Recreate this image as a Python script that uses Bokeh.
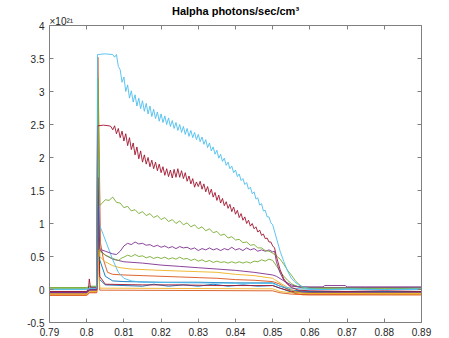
import numpy as np
from bokeh.plotting import figure
from bokeh.models import FixedTicker, LinearAxis, Range1d, Title
from bokeh.embed import file_html
from bokeh.resources import INLINE

# MATLAB default colour order
C_BLUE = "#0072BD"
C_ORANGE = "#D95319"
C_YELLOW = "#EDB120"
C_PURPLE = "#7E2F8E"
C_GREEN = "#77AC30"
C_LBLUE = "#4DBEEE"
C_RED = "#A2142F"

TITLE = "Halpha photons/sec/cm³"
EXPONENT = "×10²¹"

x_ticks = [0.79, 0.8, 0.81, 0.82, 0.83, 0.84, 0.85, 0.86, 0.87, 0.88, 0.89]
x_tick_labels = ["0.79", "0.8", "0.81", "0.82", "0.83", "0.84", "0.85", "0.86", "0.87", "0.88", "0.89"]
y_ticks = [-0.5, 0, 0.5, 1, 1.5, 2, 2.5, 3, 3.5, 4]
y_tick_labels = ["-0.5", "0", "0.5", "1", "1.5", "2", "2.5", "3", "3.5", "4"]

# ---- light blue main series (units of 1e21) ----
lb_head_x = [0.79, 0.8, 0.8008, 0.8027, 0.8029, 0.8050, 0.8070]
lb_head_y = [0.00, 0.00, 0.02, 0.02, 3.56, 3.57, 3.56]
lb_osc_start, lb_osc_step = 0.8075, 0.0005
lb_osc_y = [3.52, 3.56, 3.38, 3.33, 3.14, 3.22, 3.00, 3.10, 2.90, 3.01,
            2.84, 2.95, 2.78, 2.90, 2.74, 2.86, 2.70, 2.82, 2.66, 2.78,
            2.62, 2.73, 2.59, 2.69, 2.55, 2.66, 2.53, 2.63, 2.50, 2.60,
            2.47, 2.56, 2.44, 2.53, 2.41, 2.50, 2.38, 2.47, 2.35, 2.44,
            2.32, 2.41, 2.30, 2.38, 2.27, 2.35, 2.24, 2.31, 2.20, 2.27,
            2.15, 2.22, 2.10, 2.16, 2.05, 2.11, 1.99, 2.05, 1.94, 1.99,
            1.88, 1.93, 1.83, 1.87, 1.77, 1.81, 1.71, 1.75, 1.65, 1.68,
            1.59, 1.62, 1.52, 1.55, 1.45, 1.48, 1.37, 1.39, 1.28, 1.30,
            1.19, 1.20, 1.10, 1.10, 1.01, 0.98]
lb_tail_x = [0.851, 0.852, 0.853, 0.854, 0.855, 0.856, 0.857, 0.858, 0.860, 0.865, 0.870, 0.880, 0.890]
lb_tail_y = [0.78, 0.58, 0.42, 0.28, 0.17, 0.11, 0.07, 0.04, 0.01, 0.00, 0.01, 0.00, 0.01]

# ---- dark red main series ----
rd_head_x = [0.79, 0.8, 0.8005, 0.8007, 0.8010, 0.8027, 0.8029, 0.8045, 0.8060]
rd_head_y = [-0.03, -0.03, 0.02, 0.16, 0.03, 0.03, 2.48, 2.49, 2.48]
rd_osc_start, rd_osc_step = 0.8065, 0.0005
rd_osc_y = [2.47, 2.42, 2.48, 2.36, 2.44, 2.30, 2.40, 2.25, 2.36, 2.18,
            2.30, 2.12, 2.22, 2.04, 2.16, 1.98, 2.10, 1.93, 2.04, 1.90,
            2.00, 1.86, 1.96, 1.83, 1.93, 1.80, 1.90, 1.77, 1.86, 1.73,
            1.83, 1.71, 1.81, 1.69, 1.82, 1.70, 1.83, 1.70, 1.80, 1.68,
            1.77, 1.64, 1.72, 1.60, 1.68, 1.55, 1.63,
            1.56, 1.64, 1.52, 1.60, 1.48, 1.56, 1.44, 1.52, 1.40, 1.47,
            1.35, 1.43, 1.31, 1.38, 1.27, 1.33, 1.23, 1.29, 1.18, 1.25,
            1.14, 1.20, 1.09, 1.15, 1.05, 1.10, 1.00, 1.05, 0.96, 1.00,
            0.92, 0.95, 0.87, 0.90, 0.82, 0.84, 0.77, 0.78, 0.72, 0.72,
            0.66]
rd_tail_x = [0.8505, 0.851, 0.852, 0.853, 0.854, 0.855, 0.857, 0.860, 0.870, 0.880, 0.890]
rd_tail_y = [0.63, 0.50, 0.30, 0.16, 0.08, 0.03, -0.01, -0.02, -0.03, -0.02, -0.03]

# ---- green main series ----
gr_head_x = [0.79, 0.8, 0.8008, 0.8027, 0.8030, 0.8035]
gr_head_y = [0.02, 0.02, 0.04, 0.04, 3.20, 1.27]
gr_body_start, gr_body_step = 0.804, 0.001
gr_body_y = [1.30, 1.36, 1.35, 1.40, 1.32, 1.31, 1.24, 1.26, 1.19, 1.21,
             1.15, 1.18, 1.12, 1.15, 1.09, 1.12, 1.06, 1.09, 1.03, 1.06,
             1.00, 1.04, 0.98, 1.01, 0.95, 0.98, 0.92, 0.95, 0.89, 0.92,
             0.86, 0.88, 0.82, 0.84, 0.78, 0.80, 0.75, 0.76, 0.71, 0.72,
             0.67, 0.68, 0.63, 0.63, 0.59, 0.58, 0.55]
gr_tail_x = [0.851, 0.852, 0.853, 0.854, 0.855, 0.856, 0.857, 0.858, 0.860, 0.870, 0.880, 0.890]
gr_tail_y = [0.51, 0.46, 0.38, 0.29, 0.22, 0.14, 0.08, 0.04, 0.02, 0.02, 0.02, 0.02]

# ---- purple (upper) ----
pu_head_x = [0.79, 0.8, 0.8008, 0.8027, 0.8030, 0.8035]
pu_head_y = [-0.05, -0.05, -0.01, -0.01, 1.70, 0.62]
pu_body_start, pu_body_step = 0.804, 0.001
pu_body_y = [0.60, 0.58, 0.56, 0.54, 0.53, 0.58, 0.66, 0.70, 0.68, 0.72,
             0.69, 0.70, 0.67, 0.68, 0.65, 0.67, 0.64, 0.66, 0.63, 0.65,
             0.62, 0.65, 0.63, 0.64, 0.61, 0.63, 0.59, 0.62, 0.60, 0.63,
             0.60, 0.62, 0.59, 0.62, 0.60, 0.64, 0.60, 0.62, 0.59, 0.63,
             0.60, 0.62, 0.58, 0.60, 0.58, 0.60, 0.57]
pu_tail_x = [0.8505, 0.851, 0.852, 0.853, 0.854, 0.855, 0.857, 0.860, 0.8635, 0.864, 0.8695, 0.870, 0.875, 0.890]
pu_tail_y = [0.58, 0.42, 0.25, 0.14, 0.08, 0.05, 0.04, 0.04, 0.04, 0.06, 0.06, 0.04, 0.04, 0.04]

# ---- green (lower) ----
gl_head_x = [0.79, 0.8, 0.8008, 0.8027, 0.8030, 0.8035, 0.805, 0.807, 0.8085, 0.8095]
gl_head_y = [0.03, 0.03, 0.05, 0.05, 2.90, 0.58, 0.52, 0.47, 0.44, 0.48]
gl_body_start, gl_body_step = 0.810, 0.001
gl_body_y = [0.49, 0.52, 0.50, 0.53, 0.50, 0.51, 0.48, 0.50, 0.47, 0.49,
             0.47, 0.49, 0.46, 0.48, 0.46, 0.49, 0.46, 0.47, 0.44, 0.46,
             0.43, 0.45, 0.42, 0.44, 0.41, 0.43, 0.41, 0.42, 0.40, 0.42,
             0.40, 0.42, 0.40, 0.42, 0.40, 0.43, 0.42, 0.45, 0.43, 0.46,
             0.44]
gl_tail_x = [0.851, 0.852, 0.853, 0.854, 0.855, 0.856, 0.857, 0.858, 0.860, 0.870, 0.880, 0.890]
gl_tail_y = [0.36, 0.27, 0.20, 0.14, 0.09, 0.06, 0.04, 0.02, 0.02, 0.02, 0.01, 0.02]

# ---- smaller series ----
pl_x = [0.79, 0.8, 0.8008, 0.8027, 0.8030, 0.8035, 0.805, 0.807, 0.810, 0.815, 0.820, 0.825,
        0.830, 0.835, 0.840, 0.845, 0.850, 0.851, 0.853, 0.855, 0.857, 0.860, 0.890]
pl_y = [-0.04, -0.04, 0.00, 0.00, 1.50, 0.60, 0.52, 0.46, 0.42, 0.40, 0.37, 0.35,
        0.33, 0.31, 0.29, 0.26, 0.22, 0.20, 0.13, 0.07, 0.04, 0.03, 0.03]

ye_x = [0.79, 0.8, 0.8008, 0.8027, 0.8030, 0.8035, 0.805, 0.807, 0.809, 0.812, 0.820, 0.830,
        0.835, 0.840, 0.845, 0.850, 0.8505, 0.852, 0.854, 0.856, 0.858, 0.860, 0.890]
ye_y = [-0.07, -0.07, -0.03, -0.03, 2.40, 0.50, 0.42, 0.36, 0.33, 0.31, 0.29, 0.27,
        0.26, 0.23, 0.21, 0.17, 0.15, 0.10, 0.03, -0.03, -0.06, -0.06, -0.07]

or_x = [0.79, 0.8, 0.8008, 0.8027, 0.8030, 0.8037, 0.8045, 0.8056, 0.807, 0.810, 0.815, 0.820,
        0.825, 0.830, 0.835, 0.840, 0.845, 0.850, 0.852, 0.854, 0.856, 0.858, 0.860, 0.890]
or_y = [-0.09, -0.09, -0.05, -0.05, 3.52, 0.71, 0.45, 0.26, 0.23, 0.22, 0.21, 0.20,
        0.19, 0.18, 0.17, 0.15, 0.14, 0.12, 0.08, 0.00, -0.06, -0.08, -0.08, -0.08]

lb2_x = [0.79, 0.8, 0.8008, 0.8027, 0.8030, 0.8035, 0.805, 0.807, 0.8085, 0.810, 0.812, 0.815,
         0.830, 0.850, 0.852, 0.855, 0.860, 0.890]
lb2_y = [0.01, 0.01, 0.04, 0.04, 2.00, 0.97, 0.75, 0.45, 0.26, 0.17, 0.13, 0.11,
         0.10, 0.09, 0.05, 0.02, 0.00, 0.00]

bl1_x = [0.79, 0.8, 0.8008, 0.8027, 0.8030, 0.8035, 0.805, 0.807, 0.810, 0.820, 0.830, 0.840,
         0.850, 0.852, 0.855, 0.860, 0.890]
bl1_y = [-0.03, -0.03, 0.01, 0.01, 1.50, 0.45, 0.20, 0.13, 0.12, 0.11, 0.11, 0.10,
         0.10, 0.05, -0.01, -0.03, -0.03]

bl2_x = [0.79, 0.8, 0.8008, 0.8027, 0.8030, 0.8035, 0.805, 0.810, 0.815, 0.818, 0.822, 0.826,
         0.830, 0.834, 0.838, 0.842, 0.846, 0.850, 0.852, 0.855, 0.860, 0.890]
bl2_y = [-0.05, -0.05, -0.01, -0.01, 1.00, 0.15, 0.07, 0.06, 0.05, 0.08, 0.05, 0.07,
         0.05, 0.08, 0.05, 0.07, 0.05, 0.06, 0.02, -0.04, -0.04, -0.04]

rl_x = [0.79, 0.8, 0.8008, 0.8027, 0.8030, 0.8035, 0.805, 0.815, 0.825, 0.835, 0.845, 0.850,
        0.852, 0.855, 0.860, 0.890]
rl_y = [-0.04, -0.04, 0.00, 0.00, 2.00, 0.20, 0.08, 0.07, 0.07, 0.06, 0.06, 0.06,
        0.02, -0.03, -0.04, -0.04]

ol_x = [0.79, 0.8, 0.8008, 0.8027, 0.8030, 0.8035, 0.805, 0.850, 0.852, 0.855, 0.860, 0.890]
ol_y = [-0.08, -0.08, -0.04, -0.04, 0.80, -0.01, -0.01, -0.02, -0.05, -0.07, -0.08, -0.08]

yl_x = [0.79, 0.8, 0.8008, 0.8027, 0.8030, 0.8035, 0.805, 0.850, 0.852, 0.855, 0.860, 0.890]
yl_y = [-0.06, -0.06, -0.02, -0.02, 0.60, 0.02, 0.02, 0.01, -0.03, -0.05, -0.06, -0.06]


def grid(start, step, vals):
    return list(np.round(start + step * np.arange(len(vals)), 5))


series = [
    (bl2_x, bl2_y, C_BLUE),
    (ol_x, ol_y, C_ORANGE),
    (yl_x, yl_y, C_YELLOW),
    (rl_x, rl_y, C_RED),
    (bl1_x, bl1_y, C_BLUE),
    (or_x, or_y, C_ORANGE),
    (ye_x, ye_y, C_YELLOW),
    (pl_x, pl_y, C_PURPLE),
    (gl_head_x + grid(gl_body_start, gl_body_step, gl_body_y) + gl_tail_x,
     gl_head_y + gl_body_y + gl_tail_y, C_GREEN),
    (lb2_x, lb2_y, C_LBLUE),
    (pu_head_x + grid(pu_body_start, pu_body_step, pu_body_y) + pu_tail_x,
     pu_head_y + pu_body_y + pu_tail_y, C_PURPLE),
    (gr_head_x + grid(gr_body_start, gr_body_step, gr_body_y) + gr_tail_x,
     gr_head_y + gr_body_y + gr_tail_y, C_GREEN),
    (rd_head_x + grid(rd_osc_start, rd_osc_step, rd_osc_y) + rd_tail_x,
     rd_head_y + rd_osc_y + rd_tail_y, C_RED),
    (lb_head_x + grid(lb_osc_start, lb_osc_step, lb_osc_y) + lb_tail_x,
     lb_head_y + lb_osc_y + lb_tail_y, C_LBLUE),
]

FONT = "Liberation Sans"
AX = "#808080"
TXT = "#262626"

p = figure(width=449, height=338, x_range=Range1d(0.79, 0.89), y_range=Range1d(-0.5, 4),
           output_backend="svg", toolbar_location=None,
           min_border_left=49, min_border_right=28, min_border_top=25, min_border_bottom=16)
p.outline_line_color = None
p.xgrid.visible = False
p.ygrid.visible = False
p.background_fill_color = "white"
p.border_fill_color = "white"

for xs, ys, c in series:
    p.line(xs, ys, line_color=c, line_width=0.9)

p.add_layout(LinearAxis(), "above")
p.add_layout(LinearAxis(), "right")


def style(ax, ticks, labels, show):
    ax.ticker = FixedTicker(ticks=ticks)
    ax.major_label_overrides = dict(zip(ticks, labels if show else [""] * len(ticks)))
    ax.axis_line_color = AX
    ax.major_tick_line_color = AX
    ax.major_tick_in = 4
    ax.major_tick_out = 0
    ax.minor_tick_line_color = None
    ax.major_label_text_font = FONT
    ax.major_label_text_font_size = "10px"
    ax.major_label_text_color = TXT
    ax.major_label_standoff = 5 if show else 0


style(p.below[0], x_ticks, x_tick_labels, True)
style(p.left[0], y_ticks, y_tick_labels, True)
style(p.above[0], x_ticks, x_tick_labels, False)
style(p.right[0], y_ticks, y_tick_labels, False)

p.title.text = TITLE
p.title.align = "center"
p.title.text_font = FONT
p.title.text_font_style = "bold"
p.title.text_font_size = "11px"
p.title.text_color = "black"
p.title.standoff = -5

p.add_layout(Title(text=EXPONENT, align="left", text_font=FONT, text_font_style="normal",
                   text_font_size="10px", text_color=TXT, standoff=-2), "above")

open("out.html", "w").write(file_html(p, INLINE))
